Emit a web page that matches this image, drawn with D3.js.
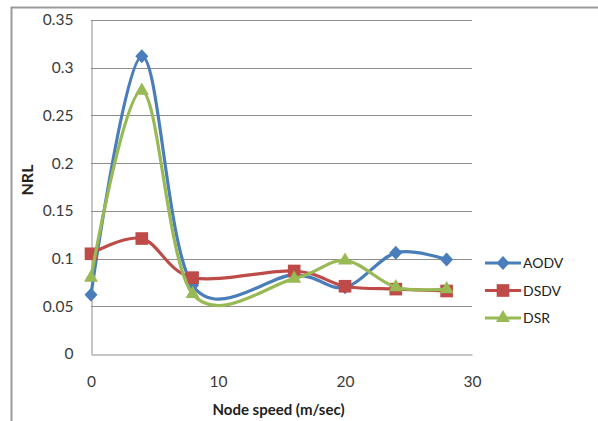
<!DOCTYPE html>
<html>
<head>
<meta charset="utf-8">
<script src="https://cdn.jsdelivr.net/npm/d3@7"></script>
<style>
  body { margin: 0; background: #fff; }
  svg { display: block; font-family: Lato, "Open Sans", sans-serif; }
</style>
</head>
<body>
<svg id="chart"></svg>
<script>
// values
var speeds = [0, 4, 8, 16, 20, 24, 28];
var aodv = [0.062, 0.312, 0.072, 0.083, 0.070, 0.106, 0.099];
var dsdv = [0.105, 0.121, 0.080, 0.087, 0.071, 0.068, 0.066];
var dsr  = [0.080, 0.276, 0.063, 0.079, 0.098, 0.070, 0.068];
var seriesNames = ["AODV", "DSDV", "DSR"];
var yTicks = [0, 0.05, 0.1, 0.15, 0.2, 0.25, 0.3, 0.35];
var yTickLabels = ["0", "0.05", "0.1", "0.15", "0.2", "0.25", "0.3", "0.35"];
var xTicks = [0, 10, 20, 30];

var width = 598, height = 421;
var margin = { left: 91, top: 20, right: 126, bottom: 67 };
var colors = ["#4a7ebb", "#be4b48", "#98b954"];

// excel-like marker shapes
var diamond = { draw: function(ctx) {
  ctx.moveTo(0, -7); ctx.lineTo(6.5, 0); ctx.lineTo(0, 7); ctx.lineTo(-6.5, 0); ctx.closePath();
}};
var shapes = [diamond, d3.symbolSquare, d3.symbolTriangle];
var sizes = [1, 160, 85];

var svg = d3.select("#chart")
  .attr("width", width)
  .attr("height", height);

// outer frame (only top and left edges are visible)
svg.append("path")
  .attr("d", "M11.5,421V7.5H598")
  .attr("fill", "none")
  .attr("stroke", "#9a9a9a")
  .attr("stroke-width", 2);

var x = d3.scaleLinear()
  .domain([0, 30])
  .range([margin.left, width - margin.right]);

var y = d3.scaleLinear()
  .domain([0, 0.35])
  .range([height - margin.bottom, margin.top]);

// gridlines
svg.append("g")
  .selectAll("line")
  .data(yTicks.slice(1))
  .enter()
    .append("line")
    .attr("x1", x(0))
    .attr("x2", x(30))
    .attr("y1", d => Math.round(y(d)) + 0.5)
    .attr("y2", d => Math.round(y(d)) + 0.5)
    .attr("stroke", "#8e8e8e")
    .attr("stroke-width", 1);

var yAxis = svg.append("g")
  .attr("transform", `translate(${margin.left + 0.5},0)`)
  .call(d3.axisLeft(y)
    .tickValues(yTicks)
    .tickFormat((d, i) => yTickLabels[i])
    .tickSize(0)
    .tickPadding(18));

var xAxis = svg.append("g")
  .attr("transform", `translate(0,${Math.round(y(0)) + 0.5})`)
  .call(d3.axisBottom(x)
    .tickValues(xTicks)
    .tickSize(0)
    .tickPadding(21));

[yAxis, xAxis].forEach(g => {
  g.select(".domain").attr("stroke", "#8e8e8e");
  g.selectAll("text")
    .attr("font-size", 15.5)
    .attr("font-family", "Lato, sans-serif")
    .attr("fill", "#3a3a3a");
});

// axis titles
svg.append("text")
  .attr("transform", `translate(33,${y(0.175) - 7}) rotate(-90)`)
  .attr("text-anchor", "middle")
  .attr("font-size", 16)
  .attr("font-weight", "bold")
  .attr("fill", "#222")
  .text("NRL");

svg.append("text")
  .attr("x", (x(0) + x(30)) / 2 - 3)
  .attr("y", 415)
  .attr("text-anchor", "middle")
  .attr("font-size", 15)
  .attr("font-weight", "bold")
  .attr("fill", "#222")
  .text("Node speed (m/sec)");

// series
var series = [aodv, dsdv, dsr].map((vals, i) => ({
  name: seriesNames[i],
  color: colors[i],
  shape: shapes[i],
  size: sizes[i],
  points: speeds.map((s, j) => ({ x: s, y: vals[j] }))
}));

var line = d3.line()
  .x(d => x(d.x))
  .y(d => y(d.y))
  .curve(d3.curveCardinal.tension(0));

var groups = svg.selectAll(".series")
  .data(series)
  .enter()
    .append("g")
    .classed("series", true);

groups.append("path")
  .attr("d", d => line(d.points))
  .attr("fill", "none")
  .attr("stroke", d => d.color)
  .attr("stroke-width", 3.2);

groups.each(function(s) {
  d3.select(this).selectAll(".marker")
    .data(s.points)
    .enter()
      .append("path")
      .classed("marker", true)
      .attr("transform", d => `translate(${x(d.x)},${y(d.y)})`)
      .attr("d", d3.symbol().type(s.shape).size(s.size))
      .attr("fill", s.color);
});

// legend
var legend = svg.append("g")
  .attr("transform", "translate(485,263)");

var items = legend.selectAll("g")
  .data(series)
  .enter()
    .append("g")
    .attr("transform", (d, i) => `translate(0,${i * 27.5})`);

items.append("line")
  .attr("x1", 0)
  .attr("x2", 36)
  .attr("stroke", d => d.color)
  .attr("stroke-width", 3.2);

items.append("path")
  .attr("transform", "translate(18,0)")
  .attr("d", d => d3.symbol().type(d.shape).size(d.size)())
  .attr("fill", d => d.color);

items.append("text")
  .attr("x", 38)
  .attr("dy", "0.36em")
  .attr("font-size", 14)
  .attr("fill", "#222")
  .text(d => d.name);
</script>
</body>
</html>
